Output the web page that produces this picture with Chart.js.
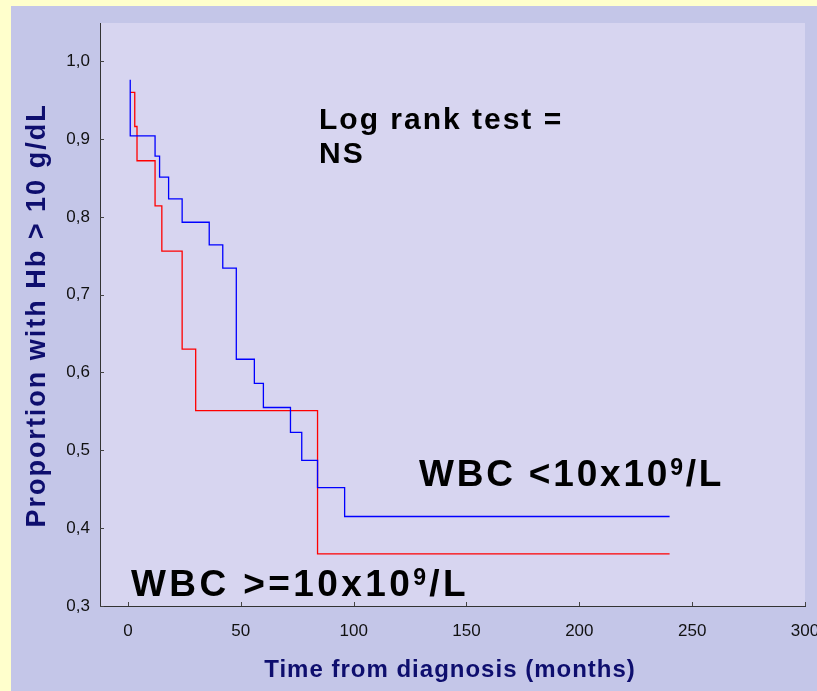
<!DOCTYPE html>
<html>
<head>
<meta charset="utf-8">
<title>Hb response by WBC</title>
<script src="https://cdn.jsdelivr.net/npm/chart.js@4.4.1/dist/chart.umd.min.js"></script>
<style>
  html, body { margin: 0; padding: 0; background: #FFFFCC; }
  #wrap { width: 817px; height: 691px; }
</style>
</head>
<body>
<div id="wrap"><canvas id="kmChart" width="817" height="691"></canvas></div>
<script>
// Kaplan-Meier steps: months from diagnosis vs proportion with Hb > 10 g/dL
const lowWbcTimes = [1, 1, 12, 14, 18, 24, 36, 42, 48, 56, 60, 72, 77, 84, 96, 240];
const lowWbcSurv = [0.976, 0.904, 0.878, 0.851, 0.823, 0.793, 0.764, 0.734, 0.617, 0.586, 0.555, 0.523, 0.487, 0.452, 0.415, 0.415];
const highWbcTimes = [1, 3, 4, 12, 15, 24, 30, 84, 240];
const highWbcSurv = [0.960, 0.916, 0.872, 0.814, 0.756, 0.630, 0.551, 0.367, 0.367];

const xTickValues = [0, 50, 100, 150, 200, 250, 300];
const yTickValues = [0.3, 0.4, 0.5, 0.6, 0.7, 0.8, 0.9, 1.0];

const FONT = "'Liberation Sans', Arial, Helvetica, sans-serif";
const NAVY = '#0E0E6E';

function toPoints(times, values) {
    return times.map((t, i) => ({ x: t, y: values[i] }));
}

// panel colours and the plot area fill
const backdrop = {
    id: 'backdrop',
    beforeDraw(chart) {
        const { ctx, chartArea } = chart;
        ctx.save();
        ctx.fillStyle = '#FFFFCC';
        ctx.fillRect(0, 0, chart.width, chart.height);
        ctx.fillStyle = '#C4C6E8';
        ctx.fillRect(11, 6, chart.width - 11, chart.height - 6);
        ctx.fillStyle = '#D7D5F0';
        ctx.fillRect(chartArea.left, chartArea.top, chartArea.right - chartArea.left, chartArea.bottom - chartArea.top);
        ctx.restore();
    }
};

// short tick marks pointing into the plot
const innerTicks = {
    id: 'innerTicks',
    afterDraw(chart) {
        const { ctx, chartArea, scales } = chart;
        ctx.save();
        ctx.strokeStyle = '#444';
        ctx.lineWidth = 1;
        ctx.beginPath();
        scales.x.ticks.forEach(t => {
            const px = Math.round(scales.x.getPixelForValue(t.value)) + 0.5;
            ctx.moveTo(px, chartArea.bottom);
            ctx.lineTo(px, chartArea.bottom - 4);
        });
        scales.y.ticks.forEach(t => {
            const py = Math.round(scales.y.getPixelForValue(t.value)) + 0.5;
            ctx.moveTo(chartArea.left, py);
            ctx.lineTo(chartArea.left + 4, py);
        });
        ctx.stroke();
        ctx.restore();
    }
};

function drawWbcLabel(ctx, text, x, y, size, spacing) {
    // text is split round the superscript 9
    const big = `bold ${size}px ${FONT}`;
    const small = `bold ${Math.round(size * 0.62)}px ${FONT}`;
    ctx.letterSpacing = spacing;
    ctx.font = big;
    ctx.fillText(text[0], x, y);
    let w = ctx.measureText(text[0]).width;
    ctx.font = small;
    ctx.fillText('9', x + w, y - size * 0.3);
    w += ctx.measureText('9').width;
    ctx.font = big;
    ctx.fillText(text[1], x + w, y);
}

// axis titles and in-plot notes
const labels = {
    id: 'labels',
    afterDraw(chart) {
        const { ctx, chartArea } = chart;
        ctx.save();
        ctx.textBaseline = 'alphabetic';

        ctx.fillStyle = NAVY;
        ctx.letterSpacing = '1px';
        ctx.font = `bold 24px ${FONT}`;
        ctx.textAlign = 'center';
        ctx.fillText('Time from diagnosis (months)', 450, 677);

        ctx.save();
        ctx.translate(45, (chartArea.top + chartArea.bottom) / 2 + 1);
        ctx.rotate(-Math.PI / 2);
        ctx.letterSpacing = '2px';
        ctx.font = `bold 27px ${FONT}`;
        ctx.fillText('Proportion with Hb > 10 g/dL', 0, 0);
        ctx.restore();

        ctx.fillStyle = '#000';
        ctx.textAlign = 'left';
        ctx.letterSpacing = '2px';
        ctx.font = `bold 30px ${FONT}`;
        ctx.fillText('Log rank test =', 319, 129);
        ctx.fillText('NS', 319, 163);

        drawWbcLabel(ctx, ['WBC <10x10', '/L'], 419, 486, 37, '2.8px');
        drawWbcLabel(ctx, ['WBC >=10x10', '/L'], 131, 596, 37, '3.4px');
        ctx.restore();
    }
};

const ctx = document.getElementById('kmChart').getContext('2d');
const kmChart = new Chart(ctx, {
    type: 'line',
    data: {
        datasets: [{
            label: 'WBC <10x10⁹/L',
            data: toPoints(lowWbcTimes, lowWbcSurv),
            borderColor: '#0000FF',
            borderWidth: 1.3,
            stepped: true,
            pointRadius: 0,
            fill: false
        }, {
            label: 'WBC >=10x10⁹/L',
            data: toPoints(highWbcTimes, highWbcSurv),
            borderColor: '#FF0000',
            borderWidth: 1.3,
            stepped: true,
            pointRadius: 0,
            fill: false
        }]
    },
    options: {
        responsive: false,
        animation: false,
        layout: { padding: { left: 11, top: 23, right: 12, bottom: 0 } },
        plugins: {
            legend: { display: false },
            tooltip: { enabled: false }
        },
        scales: {
            x: {
                type: 'linear',
                min: -12.4,
                max: 300,
                grid: { display: false },
                border: { display: true, color: '#333', width: 1 },
                ticks: {
                    color: '#111',
                    padding: 7,
                    maxRotation: 0,
                    font: { family: FONT, size: 17 },
                    callback: v => String(v)
                },
                afterBuildTicks: s => { s.ticks = xTickValues.map(v => ({ value: v })); },
                afterFit: s => {
                    s.height = 85;
                    s.paddingLeft = 0;
                    s.paddingRight = 0;
                }
            },
            y: {
                type: 'linear',
                min: 0.3,
                max: 1.049,
                grid: { display: false },
                border: { display: true, color: '#333', width: 1 },
                ticks: {
                    color: '#111',
                    padding: 2,
                    font: { family: FONT, size: 17 },
                    callback: v => v.toFixed(1).replace('.', ',')
                },
                afterBuildTicks: s => { s.ticks = yTickValues.map(v => ({ value: v })); },
                afterFit: s => { s.width = 89; }
            }
        }
    },
    plugins: [backdrop, innerTicks, labels]
});
</script>
</body>
</html>
